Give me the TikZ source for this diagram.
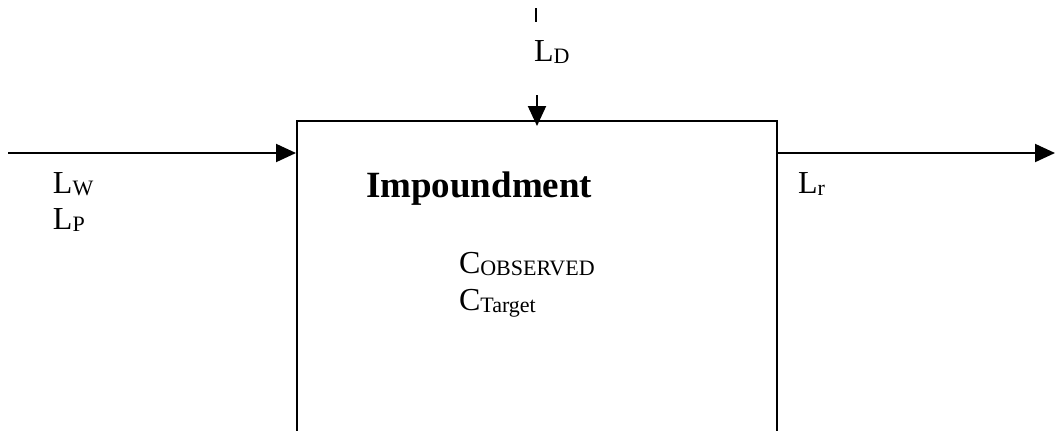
\documentclass[tikz,border=0pt]{standalone}
\usepackage{fontspec}
\setmainfont{Liberation Serif}
\usetikzlibrary{arrows.meta,positioning}
\newcommand{\lowidx}[1]{\raisebox{-0.08em}{\fontsize{11}{13}\selectfont #1}}

\begin{document}
\begin{tikzpicture}[x=0.5pt, y=-0.5pt,
      line width=1pt,
      flow/.style={-{Triangle[length=10pt,width=9pt]}},
      lbl/.style={anchor=base west, inner sep=0pt, font=\fontsize{16}{19}\selectfont},
      pondbox/.style={draw, anchor=north, inner sep=0pt, minimum width=240pt, minimum height=170pt}]
    \useasboundingbox (0,0) rectangle (1055,430);
    \clip (0,0) rectangle (1055,430);
    \node[pondbox] (pond) at (537,120) {};
    % loads in and out
    \coordinate (inl) at (8,153);
    \coordinate (outr) at (1055,153);
    \coordinate (dtop) at (536,8);
    \coordinate (dtick) at (536,22);
    \coordinate (dstart) at (537,95);
    \draw (dtop) -- (dtick);
    \draw[flow] (dstart) -- ([yshift=-3pt]pond.north);
    \draw[flow] (inl) -- (inl -| pond.west);
    \draw[flow] (inl -| pond.east) -- (outr);
    % labels
    \node[lbl] (ld) at (533,61) {L\lowidx{D}};
    \node[lbl] (lw) at (52,193) {L\lowidx{W}};
    \node[lbl] (lp) at (52,229) {L\lowidx{P}};
    \node[lbl] (lr) at (797,193) {L\lowidx{r}};
    \node[lbl, font=\fontsize{18.5}{22}\selectfont\bfseries] (title) at (365,197) {Impoundment};
    \node[lbl] (cobs) at (458,273) {C\lowidx{OBSERVED}};
    \node[lbl] (ctgt) at (458,310) {C\lowidx{Target}};
  \end{tikzpicture}
\end{document}
